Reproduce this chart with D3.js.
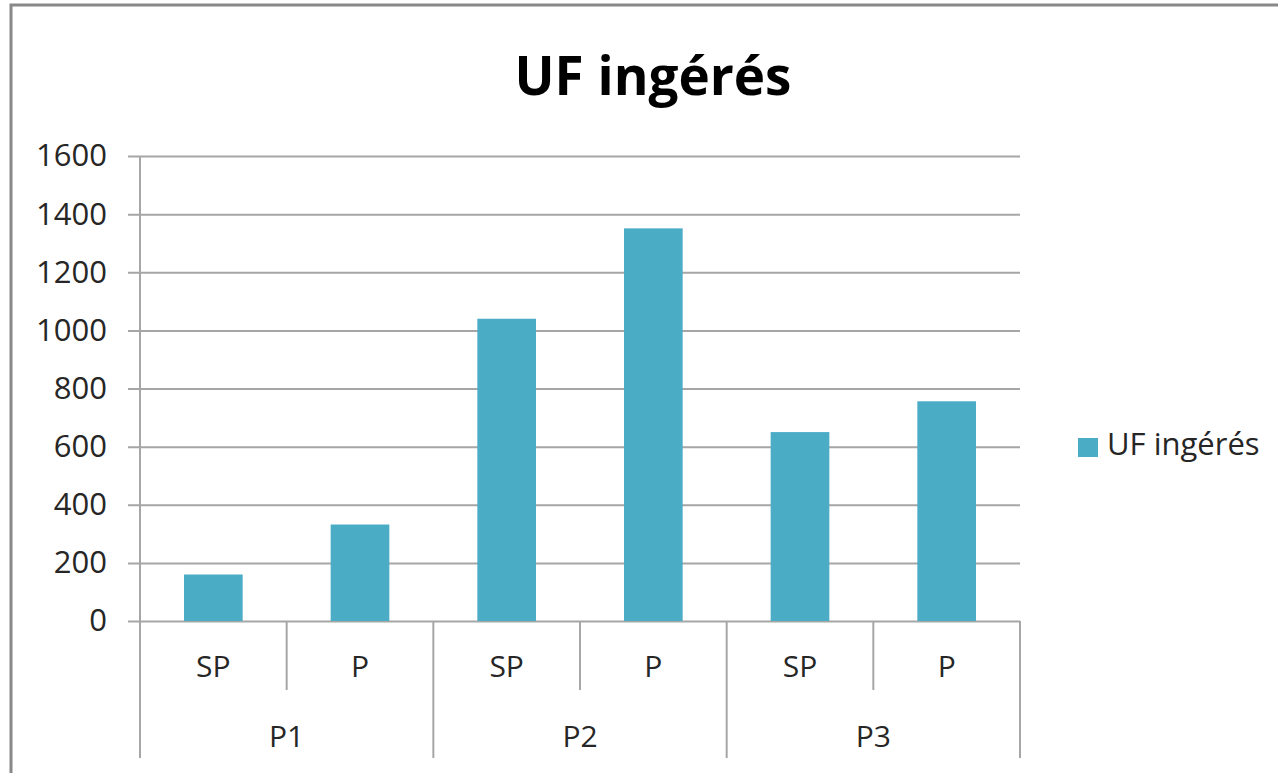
<!DOCTYPE html>
<html><head><meta charset="utf-8">
<script src="https://cdn.jsdelivr.net/npm/d3@7"></script>
<style>body{margin:0;background:#fff}svg{display:block}</style>
</head><body>
<svg id="c" width="1278" height="773"></svg>
<script>
const groups = ["P1", "P2", "P3"];
const subCategories = ["SP", "P"];
const values = [160, 332, 1040, 1351, 650, 756];
const yTicks = [0, 200, 400, 600, 800, 1000, 1200, 1400, 1600];
const seriesName = "UF ingérés";
const title = "UF ingérés";

(function () {
const rows = [];
groups.forEach((g, gi) => subCategories.forEach((s, si) => rows.push({key: g + "-" + s, group: g, sub: s, value: values[gi * subCategories.length + si]})));

const svg = d3.select("#c");
const font = "'Open Sans', 'Liberation Sans', sans-serif";
const pLeft = 140, pRight = 1020, pTop = 156, pBottom = 621;

// outer frame
svg.append("rect").attr("x", 11).attr("y", 5).attr("width", 1290).attr("height", 800)
  .attr("fill", "none").attr("stroke", "#888").attr("stroke-width", 3);

const x = d3.scaleBand().domain(rows.map(d => d.key)).range([pLeft, pRight]).paddingInner(0.6).paddingOuter(0.3);
const slot = d3.scaleBand().domain(rows.map(d => d.key)).range([pLeft, pRight]);
const y = d3.scaleLinear().domain([0, 1600]).range([pBottom, pTop]);

// gridlines + y axis
const yAxis = d3.axisLeft(y).tickValues(yTicks).tickFormat(d3.format("d")).tickSize(12).tickPadding(21);
const gy = svg.append("g").attr("transform", `translate(${pLeft},0)`).call(yAxis);
gy.select(".domain").remove();
gy.selectAll(".tick line").attr("stroke", "#a6a6a6").attr("stroke-width", 2)
  .attr("x1", -12).attr("x2", pRight - pLeft);
gy.selectAll(".tick text").attr("font-family", font).attr("font-size", 31).attr("fill", "#262626");

// vertical axis line
svg.append("line").attr("x1", pLeft).attr("x2", pLeft).attr("y1", pTop).attr("y2", 758)
  .attr("stroke", "#a6a6a6").attr("stroke-width", 2);

// bars
svg.append("g").selectAll("rect").data(rows).join("rect")
  .attr("x", d => x(d.key)).attr("width", x.bandwidth())
  .attr("y", d => y(d.value)).attr("height", d => y(0) - y(d.value))
  .attr("fill", "#4bacc6");

// category separators
const catG = svg.append("g");
rows.forEach((d, i) => {
  const xr = slot(d.key) + slot.bandwidth();
  const isGroupEnd = (i % subCategories.length) === subCategories.length - 1;
  catG.append("line").attr("x1", xr).attr("x2", xr).attr("y1", pBottom).attr("y2", isGroupEnd ? 758 : 690)
    .attr("stroke", "#a6a6a6").attr("stroke-width", 2);
});
// x labels
catG.selectAll("text.sub").data(rows).join("text").attr("class", "sub")
  .attr("x", d => slot(d.key) + slot.bandwidth() / 2).attr("y", 677)
  .attr("text-anchor", "middle").attr("font-family", font).attr("font-size", 30).attr("fill", "#262626")
  .text(d => d.sub);
const groupScale = d3.scaleBand().domain(groups).range([pLeft, pRight]);
catG.selectAll("text.grp").data(groups).join("text").attr("class", "grp")
  .attr("x", d => groupScale(d) + groupScale.bandwidth() / 2).attr("y", 747)
  .attr("text-anchor", "middle").attr("font-family", font).attr("font-size", 30).attr("fill", "#262626")
  .text(d => d);

// title
svg.append("text").attr("x", 653).attr("y", 95).attr("text-anchor", "middle")
  .attr("font-family", font).attr("font-weight", "bold").attr("font-size", 53).attr("fill", "#000")
  .text(title);

// legend
svg.append("rect").attr("x", 1078).attr("y", 438).attr("width", 20).attr("height", 19).attr("fill", "#4bacc6");
svg.append("text").attr("x", 1107).attr("y", 455).attr("font-family", font).attr("font-size", 31).attr("fill", "#262626")
  .text(seriesName);
})();
</script>
</body></html>
